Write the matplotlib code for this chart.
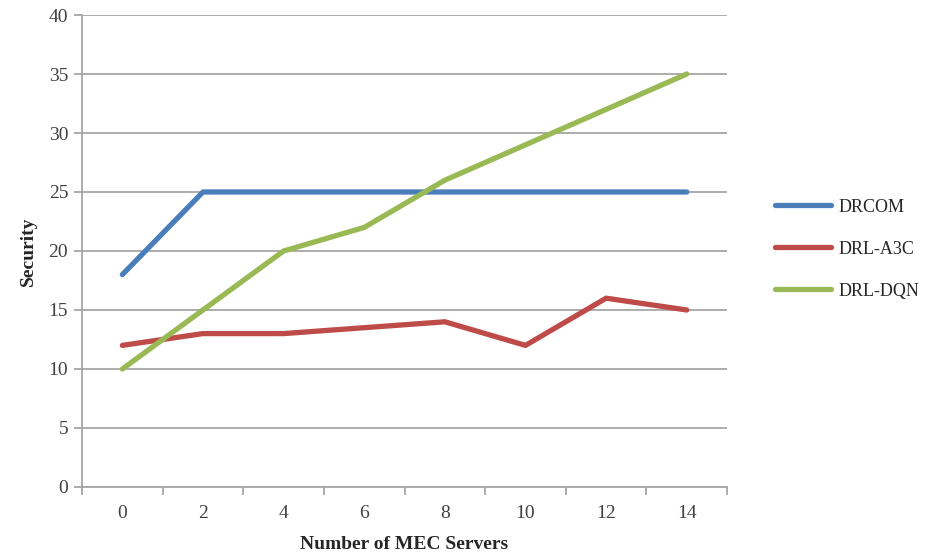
import numpy as np
import matplotlib.pyplot as plt

# security score vs number of MEC servers
servers = ['0', '2', '4', '6', '8', '10', '12', '14']
drcom = [18, 25, 25, 25, 25, 25, 25, 25]
drl_a3c = [12, 13, 13, 13.5, 14, 12, 16, 15]
drl_dqn = [10, 15, 20, 22, 26, 29, 32, 35]

plt.rcParams['font.family'] = ['Liberation Serif', 'DejaVu Serif']

fig = plt.figure(figsize=(9.27, 5.6), dpi=100)
ax = fig.add_axes([0.0885, 0.1304, 0.6958, 0.8428])

x = np.arange(len(servers))
lines = []
lines += ax.plot(x, drcom, color='#4a7ebb', lw=3.8, solid_capstyle='round', label='DRCOM')
lines += ax.plot(x, drl_a3c, color='#be4b48', lw=3.8, solid_capstyle='round', label='DRL-A3C')
lines += ax.plot(x, drl_dqn, color='#98b954', lw=3.8, solid_capstyle='round', label='DRL-DQN')

grid_c = '#a6a6a6'
ax.set_ylim(0, 40)
ax.set_yticks(range(0, 41, 5))
ax.set_xlim(-0.5, len(servers) - 0.5)
ax.set_xticks(x)
ax.set_xticklabels(servers)
ax.set_xticks(np.arange(-0.5, len(servers), 1), minor=True)
ax.tick_params(axis='x', which='major', length=0, pad=13, labelsize=14, labelcolor='#404040')
ax.tick_params(axis='x', which='minor', length=6, width=1.3, color=grid_c, direction='out')
ax.tick_params(axis='y', length=6, width=1.3, color=grid_c, labelsize=14, labelcolor='#404040', pad=4)
ax.yaxis.grid(True, color=grid_c, lw=1.3)
ax.set_axisbelow(True)
for s in ['top', 'right']:
    ax.spines[s].set_visible(False)
for s in ['left', 'bottom']:
    ax.spines[s].set_color(grid_c)
    ax.spines[s].set_linewidth(1.3)

ax.set_xlabel('Number of MEC Servers', fontsize=14, fontweight='bold', color='#262626', labelpad=10)
ax.set_ylabel('Security', fontsize=14, fontweight='bold', color='#262626', labelpad=8)

fig.legend(handles=lines, loc='upper left', bbox_to_anchor=(0.818, 0.674),
           frameon=False, fontsize=13, handlelength=3.15, handletextpad=0.4,
           labelspacing=1.38, labelcolor='#262626')

fig.savefig('out.png', dpi=100)
